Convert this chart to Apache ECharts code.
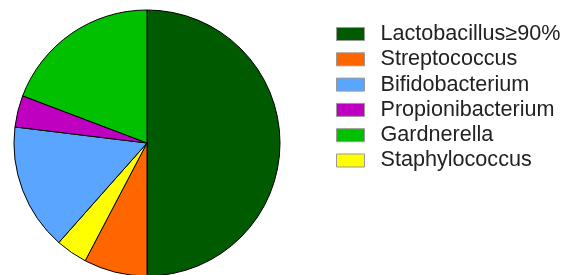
<!DOCTYPE html>
<html>
<head>
<meta charset="utf-8">
<script src="https://cdn.jsdelivr.net/npm/echarts@6/dist/echarts.min.js"></script>
<style>
  html, body { margin: 0; padding: 0; background: #fff; }
  #chart { width: 561px; height: 275px; }
</style>
</head>
<body>
<div id="chart"></div>
<script>
// slice order around the pie (clockwise from 12 o'clock)
const names = ['Lactobacillus≥90%', 'Streptococcus', 'Staphylococcus', 'Bifidobacterium', 'Propionibacterium', 'Gardnerella'];
const counts = [13, 2, 1, 4, 1, 5];
const colors = ['#005a00', '#ff6600', '#ffff00', '#5aa5ff', '#c000c0', '#00c000'];
// legend order as shown on the right
const legendOrder = ['Lactobacillus≥90%', 'Streptococcus', 'Bifidobacterium', 'Propionibacterium', 'Gardnerella', 'Staphylococcus'];

const chart = echarts.init(document.getElementById('chart'));
chart.setOption({
  animation: false,
  backgroundColor: '#fff',
  color: colors,
  legend: {
    data: legendOrder,
    orient: 'vertical',
    left: 331,
    top: 18,
    icon: 'rect',
    itemWidth: 28,
    itemHeight: 13,
    itemGap: 3.3,
    itemStyle: { borderColor: '#999', borderWidth: 1 },
    textStyle: {
      fontFamily: 'Liberation Sans, Arial, sans-serif',
      fontSize: 21.6,
      lineHeight: 22,
      padding: [0, 0, 0, 11],
      color: '#222'
    }
  },
  series: [{
    type: 'pie',
    center: [147, 143],
    radius: 133,
    startAngle: 90,
    clockwise: true,
    label: { show: false },
    labelLine: { show: false },
    emphasis: { disabled: true },
    itemStyle: { borderColor: '#000', borderWidth: 1 },
    data: names.map((n, i) => ({ name: n, value: counts[i] }))
  }]
});
</script>
</body>
</html>
